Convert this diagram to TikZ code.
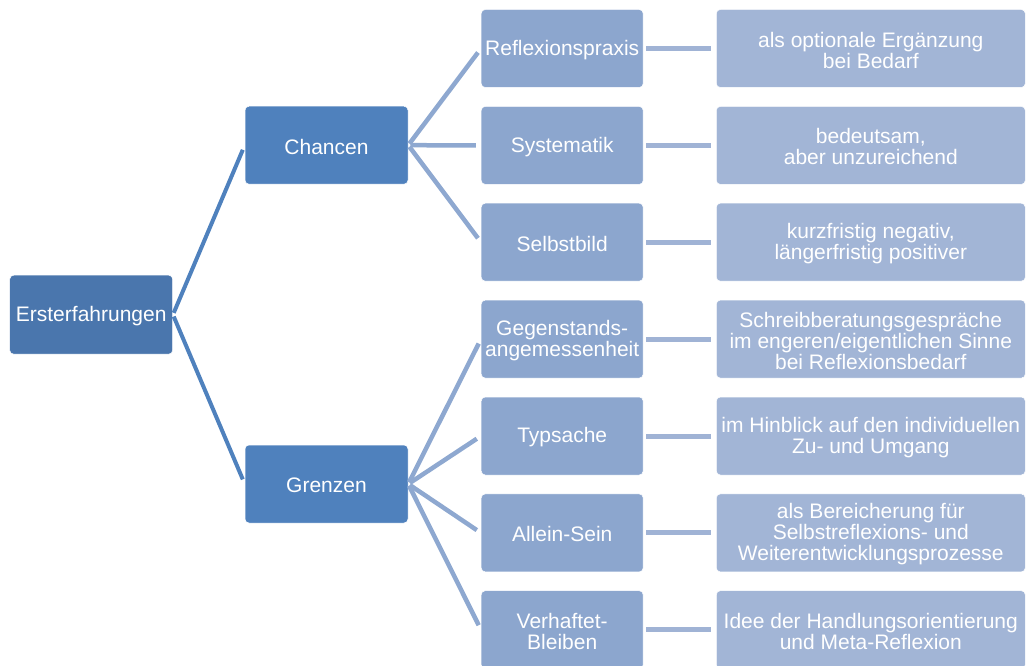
\documentclass[tikz,border=0pt]{standalone}
\usepackage{fontspec}
\setmainfont{Liberation Sans}
\definecolor{rootblue}{HTML}{4A76AD}
\definecolor{midblue}{HTML}{4F81BD}
\definecolor{lvltwo}{HTML}{8CA6CE}
\definecolor{lvlthree}{HTML}{A2B5D6}
\definecolor{linkone}{HTML}{4F81BD}
\definecolor{linktwo}{HTML}{8EA8D0}
\definecolor{linkthree}{HTML}{A0B3D5}

% centred lines with a fixed baseline distance, set slightly low in the box
\newcommand\stack[1]{{\def\\{\cr}%
  \raisebox{-1.5pt}[\height][\depth]{\vbox{\lineskiplimit=-20pt\baselineskip=21pt
    \halign{\hfil##\hfil\cr#1\cr}}}}}

\begin{document}
\begin{tikzpicture}[x=1pt,y=-1pt,
  box/.style={rectangle, rounded corners=4pt, draw=white, line width=0.5pt,
    text=white, inner sep=0pt, font=\fontsize{21}{21}\selectfont},
  rootbox/.style={box, fill=rootblue, minimum width=163pt, minimum height=79pt},
  catbox/.style={box, fill=midblue, minimum width=163pt, minimum height=78pt},
  itembox/.style={box, fill=lvltwo, minimum width=162pt, minimum height=78pt},
  notebox/.style={box, fill=lvlthree, minimum width=309pt, minimum height=78pt},
  linkroot/.style={draw=linkone, line width=4pt, shorten <=2pt, shorten >=5pt},
  linkcat/.style={draw=linktwo, line width=4.5pt, shorten <=2pt, shorten >=5pt},
  linknote/.style={draw=linkthree, line width=5pt, shorten <=3pt, shorten >=5pt}
]
\useasboundingbox (0,0) rectangle (1026,666);
\clip (0,0) rectangle (1026,666);

% root and categories
\node[rootbox] (root) at (91.2,314.7) {\stack{Ersterfahrungen}};
\node[catbox] (ch) at (326.5,145.2) {\stack{Chancen}};
\node[catbox] (gr) at (326.5,484) {\stack{Grenzen}};

% second level
\node[itembox] (i1) at (562.2,48.5)  {\stack{Reflexionspraxis}};
\node[itembox] (i2) at (562.2,145.4) {\stack{Systematik}};
\node[itembox] (i3) at (562.2,242.2) {\stack{Selbstbild}};
\node[itembox] (i4) at (562.2,339.1) {\stack{Gegenstands-\\angemessenheit}};
\node[itembox] (i5) at (562.2,436)   {\stack{Typsache}};
\node[itembox] (i6) at (562.2,532.9) {\stack{Allein-Sein}};
\node[itembox] (i7) at (562.2,629.7) {\stack{Verhaftet-\\Bleiben}};

% third level
\node[notebox] (n1) at (870.8,48.5)  {\stack{als optionale Ergänzung\\bei Bedarf}};
\node[notebox] (n2) at (870.8,145.4) {\stack{bedeutsam,\\aber unzureichend}};
\node[notebox] (n3) at (870.8,242.2) {\stack{kurzfristig negativ,\\längerfristig positiver}};
\node[notebox] (n4) at (870.8,339.1) {\stack{Schreibberatungsgespräche\\im engeren/eigentlichen Sinne\\bei Reflexionsbedarf}};
\node[notebox] (n5) at (870.8,436)   {\stack{im Hinblick auf den individuellen\\Zu- und Umgang}};
\node[notebox] (n6) at (870.8,532.9) {\stack{als Bereicherung für\\Selbstreflexions- und\\Weiterentwicklungsprozesse}};
\node[notebox] (n7) at (870.8,629.7) {\stack{Idee der Handlungsorientierung\\und Meta-Reflexion}};

% connectors
\draw[linkroot] (root.east) -- (ch.west);
\draw[linkroot] (root.east) -- (gr.west);
\foreach \i in {i1,i2,i3} \draw[linkcat] (ch.east) -- (\i.west);
\foreach \i in {i4,i5,i6,i7} \draw[linkcat] (gr.east) -- (\i.west);
\foreach \k in {1,...,7} \draw[linknote] (i\k.east) -- (n\k.west);
\end{tikzpicture}
\end{document}
